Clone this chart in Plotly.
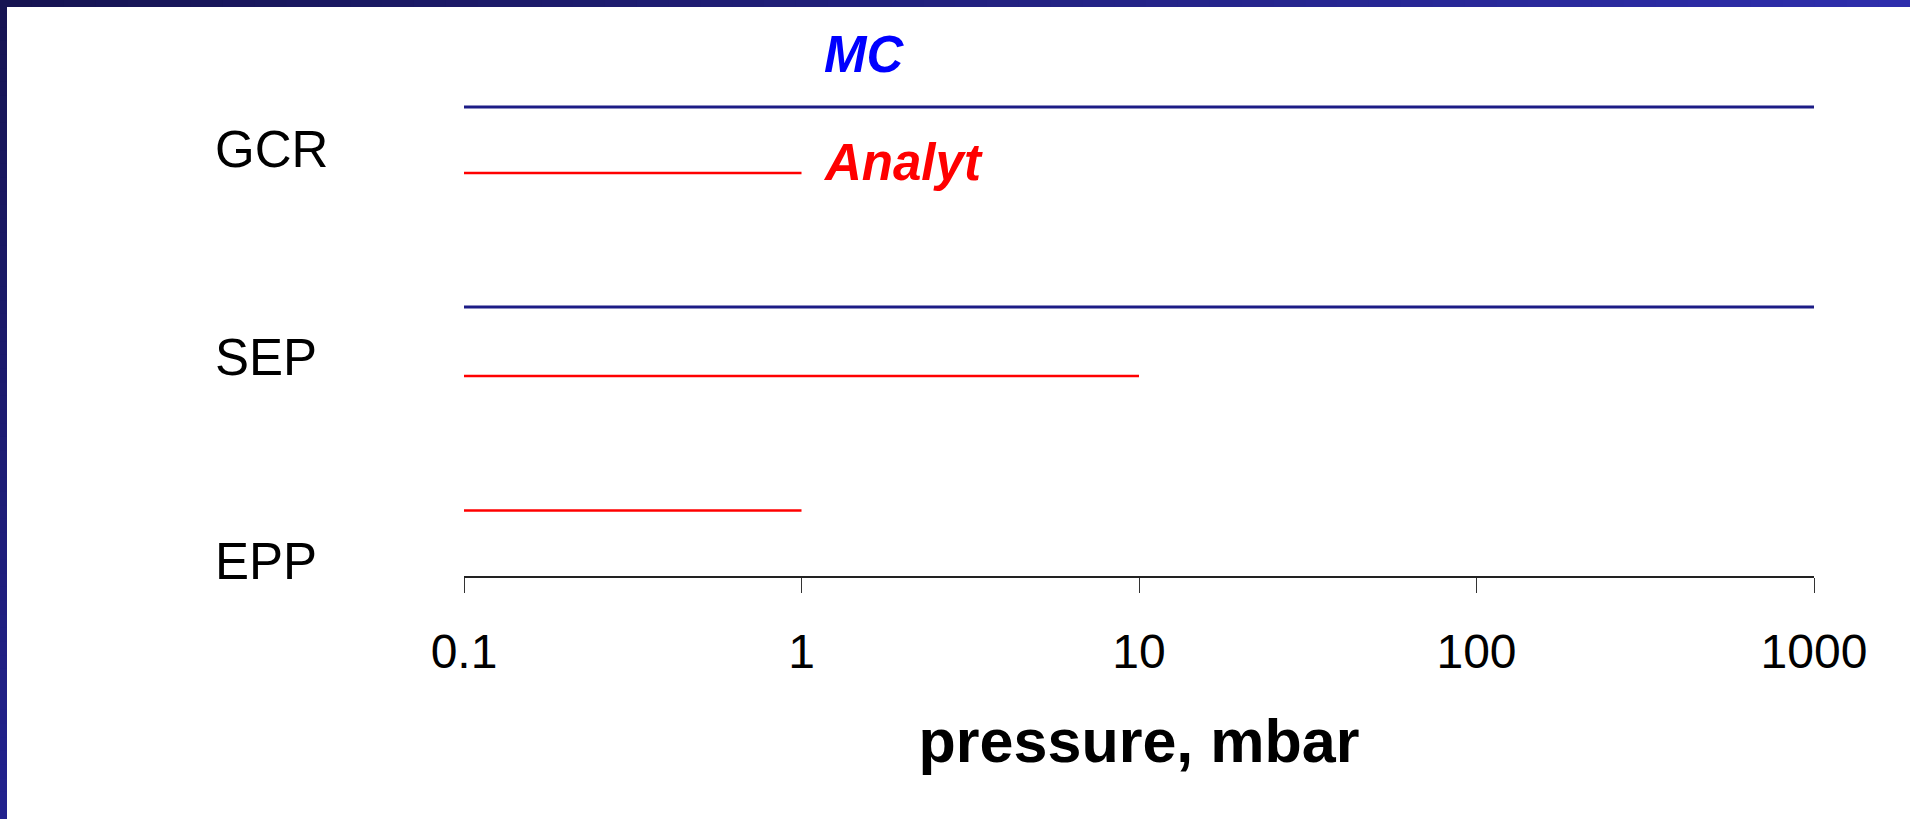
import plotly.graph_objects as go

# ---------------- data ----------------
categories = ["GCR", "SEP", "EPP"]
p_min = [0.1, 0.1, 0.1]
mc_p_max = [1000, 1000, None]        # MC coverage (none for EPP)
analyt_p_max = [1, 10, 1]            # analytical coverage
tick_vals = [0.1, 1, 10, 100, 1000]
tick_text = ["0.1", "1", "10", "100", "1000"]

# ---------------- layout constants (pixels) ----------------
W, H = 1910, 819
L, R, T, B = 464, 96, 0, 243
PW, PH = W - L - R, H - T - B

# vertical pixel positions of rows / series lines
label_y = {"GCR": 149, "SEP": 357, "EPP": 561}
mc_y = {"GCR": 107, "SEP": 307, "EPP": None}
an_y = {"GCR": 173, "SEP": 376, "EPP": 510.5}

def px_x(px):
    return (px - L) / PW

def px_y(py):
    return 1 - (py - T) / PH

FONT = "Liberation Sans, Arial, sans-serif"

fig = go.Figure()

for i, cat in enumerate(categories):
    if mc_p_max[i] is not None:
        fig.add_trace(go.Scatter(
            x=[p_min[i], mc_p_max[i]], y=[mc_y[cat]] * 2, mode="lines",
            line=dict(color="#1c1c86", width=3), showlegend=False, hoverinfo="skip"))
    if analyt_p_max[i] is not None:
        fig.add_trace(go.Scatter(
            x=[p_min[i], analyt_p_max[i]], y=[an_y[cat]] * 2, mode="lines",
            line=dict(color="#ff0000", width=2.5), showlegend=False, hoverinfo="skip"))

annotations = []
for cat in categories:
    annotations.append(dict(
        x=px_x(213), y=px_y(label_y[cat]), xref="paper", yref="paper",
        text=cat, showarrow=False, xanchor="left", yanchor="middle",
        font=dict(family=FONT, size=51, color="black")))

annotations.append(dict(
    x=px_x(864), y=px_y(54), xref="paper", yref="paper",
    text="<b><i>MC</i></b>", showarrow=False, xanchor="center", yanchor="middle",
    font=dict(family=FONT, size=51, color="#0000ff")))
annotations.append(dict(
    x=px_x(821), y=px_y(162), xref="paper", yref="paper",
    text="<b><i>Analyt</i></b>", showarrow=False, xanchor="left", yanchor="middle",
    font=dict(family=FONT, size=51, color="#ff0000")))

# gradient frame (top and left strips)
shapes = []
N = 60
def lerp(c1, c2, t):
    return "rgb(%d,%d,%d)" % tuple(round(a + (b - a) * t) for a, b in zip(c1, c2))

top_c1, top_c2 = (22, 20, 82), (46, 46, 172)
left_c1, left_c2 = (22, 20, 82), (34, 34, 142)
for k in range(N):
    x0 = W * k / N
    x1 = W * (k + 1) / N + 1
    shapes.append(dict(type="rect", xref="paper", yref="paper",
                       x0=px_x(x0), x1=px_x(x1), y0=px_y(7), y1=px_y(0),
                       fillcolor=lerp(top_c1, top_c2, k / (N - 1)), line=dict(width=0),
                       layer="above"))
    y0 = H * k / N
    y1 = H * (k + 1) / N + 1
    shapes.append(dict(type="rect", xref="paper", yref="paper",
                       x0=px_x(0), x1=px_x(7), y0=px_y(y1), y1=px_y(y0),
                       fillcolor=lerp(left_c1, left_c2, k / (N - 1)), line=dict(width=0),
                       layer="above"))

fig.update_layout(
    width=W, height=H,
    margin=dict(l=L, r=R, t=T, b=B, pad=0),
    paper_bgcolor="white", plot_bgcolor="white",
    font=dict(family=FONT, color="black"),
    showlegend=False,
    annotations=annotations,
    shapes=shapes,
    xaxis=dict(
        type="log", range=[-1, 3],
        tickvals=tick_vals, ticktext=tick_text,
        ticks="outside", ticklen=15, tickwidth=1.2, tickcolor="#333333",
        showline=True, linecolor="#222222", linewidth=1.5,
        showgrid=False, zeroline=False,
        tickfont=dict(family=FONT, size=48, color="black"),
        ticklabelstandoff=18,
        title=dict(text="<b>pressure, mbar</b>", standoff=42,
                   font=dict(family=FONT, size=61, color="black")),
        fixedrange=True,
    ),
    yaxis=dict(
        range=[PH + T, T], visible=False, showgrid=False, zeroline=False,
        fixedrange=True,
    ),
)

fig.write_html("out.html")
